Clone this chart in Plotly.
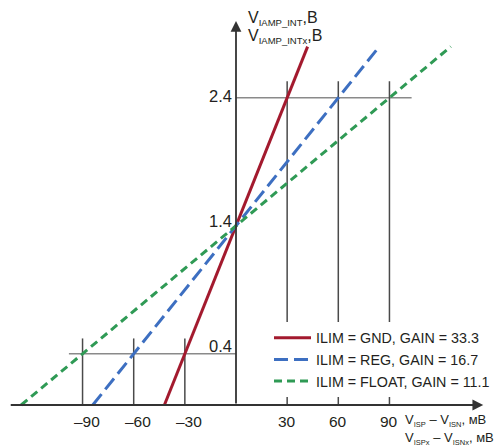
import plotly.graph_objects as go

# ---- data ----
series_names = ["ILIM = GND, GAIN = 33.3", "ILIM = REG, GAIN = 16.7", "ILIM = FLOAT, GAIN = 11.1"]
gnd_x = [-42, 42]
gnd_v = [0.0, 2.8]
reg_x = [-84, 84]
reg_v = [0.0, 2.8]
float_x = [-126, 126]
float_v = [0.0, 2.8]

x_ticks_neg = [-90, -60, -30]
x_labels_neg = ["\u201390", "\u201360", "\u201330"]
x_ticks_pos = [30, 60, 90]
x_labels_pos = ["30", "60", "90"]
y_ticks = [0.4, 1.4, 2.4]
y_labels = ["0.4", "1.4", "2.4"]

# ---- style ----
W, H = 495, 447
FONT = "Liberation Sans, Arial, Helvetica, sans-serif"
TXT = "#231f20"
colors = ["#a31a2e", "#3d6fc1", "#2f9a55"]
dashes = ["solid", "14px,6px", "8px,5px"]

px_per_mv = 1.705
px_per_v = 128.0
x0_px, y0_px = 236.0, 405.0
x_range = [-x0_px / px_per_mv, (W - x0_px) / px_per_mv]
y_range = [-(H - y0_px) / px_per_v, y0_px / px_per_v]

fig = go.Figure()
for name, xs, vs, c, d in zip(series_names, [gnd_x, reg_x, float_x], [gnd_v, reg_v, float_v], colors, dashes):
    fig.add_trace(go.Scatter(x=xs, y=vs, mode="lines", name=name,
                             line=dict(color=c, width=3, dash=d)))

shapes = []
guide_grey = "#8a8a8a"
tick_dark = "#4a4a4a"
axis_col = "#333333"
# upper guides
shapes.append(dict(type="line", x0=0, x1=103, y0=y_ticks[2], y1=y_ticks[2],
                   line=dict(color=guide_grey, width=1.5)))
for xv in x_ticks_pos:
    shapes.append(dict(type="line", x0=xv, x1=xv, y0=0, y1=2.53,
                       line=dict(color=tick_dark, width=1.5)))
# lower guides
shapes.append(dict(type="line", x0=-98, x1=0, y0=y_ticks[0], y1=y_ticks[0],
                   line=dict(color=guide_grey, width=1.5)))
for xv in x_ticks_neg:
    shapes.append(dict(type="line", x0=xv, x1=xv, y0=0, y1=0.52,
                       line=dict(color=tick_dark, width=1.5)))
for s in shapes:
    s["layer"] = "below"

annotations = []
# axes arrows
annotations.append(dict(x=145, y=0, ax=-133, ay=0, axref="x", ayref="y", xref="x", yref="y",
                        text="", showarrow=True, arrowhead=2, arrowsize=1.2, arrowwidth=1.8,
                        arrowcolor=axis_col, standoff=0))
annotations.append(dict(x=0, y=3.0, ax=0, ay=0, axref="x", ayref="y", xref="x", yref="y",
                        text="", showarrow=True, arrowhead=2, arrowsize=1.2, arrowwidth=1.8,
                        arrowcolor=axis_col, standoff=0))

# y tick labels
y_shift = {"0.4": 8, "1.4": 5, "2.4": 2}
for v, lab in zip(y_ticks, y_labels):
    annotations.append(dict(x=0, y=v, xref="x", yref="y", text=lab, showarrow=False,
                            xanchor="right", yanchor="middle", xshift=-2, yshift=y_shift[lab],
                            font=dict(family=FONT, size=16.5, color=TXT)))
# x tick labels
for v, lab in zip(x_ticks_neg + x_ticks_pos, x_labels_neg + x_labels_pos):
    annotations.append(dict(x=v, y=0, xref="x", yref="y", text=lab, showarrow=False,
                            xanchor="center", yanchor="middle", yshift=-16,
                            xshift=(4 if lab.startswith("\u2013") else 0),
                            font=dict(family=FONT, size=15.5, color=TXT)))

# axis titles
sub9 = '<sub><span style="font-size:9.5px">{}</span></sub>'
annotations.append(dict(x=246 / W, y=1 - 19 / H, xref="paper", yref="paper",
                        text="V" + sub9.format("IAMP_INT") + ",В", showarrow=False,
                        xanchor="left", yanchor="middle",
                        font=dict(family=FONT, size=16, color=TXT)))
annotations.append(dict(x=246 / W, y=1 - 36 / H, xref="paper", yref="paper",
                        text="V" + sub9.format("IAMP_INTx") + ",В", showarrow=False,
                        xanchor="left", yanchor="middle",
                        font=dict(family=FONT, size=16, color=TXT)))
sub8 = '<sub><span style="font-size:7.5px">{}</span></sub>'
annotations.append(dict(x=403 / W, y=1 - 420 / H, xref="paper", yref="paper",
                        text="V" + sub8.format("ISP") + " \u2013 V" + sub8.format("ISN") + ", мВ",
                        showarrow=False, xanchor="left", yanchor="middle",
                        font=dict(family=FONT, size=13, color=TXT)))
annotations.append(dict(x=403 / W, y=1 - 438 / H, xref="paper", yref="paper",
                        text="V" + sub8.format("ISPx") + " \u2013 V" + sub8.format("ISNx") + ", мВ",
                        showarrow=False, xanchor="left", yanchor="middle",
                        font=dict(family=FONT, size=13, color=TXT)))

fig.update_layout(
    width=W, height=H, autosize=False,
    margin=dict(l=0, r=0, t=0, b=0, pad=0),
    paper_bgcolor="white", plot_bgcolor="white",
    xaxis=dict(range=x_range, visible=False, fixedrange=True),
    yaxis=dict(range=y_range, visible=False, fixedrange=True),
    shapes=shapes, annotations=annotations,
    showlegend=True,
    legend=dict(x=1.0, y=1 - 322 / H, xanchor="right", yanchor="top",
                bgcolor="white", borderwidth=0,
                font=dict(family=FONT, size=14.3, color=TXT),
                itemwidth=37, tracegroupgap=0),
)

fig.write_html("out.html", config={"displayModeBar": False},
               post_script="document.body.style.margin='0';document.body.style.overflow='hidden';")
